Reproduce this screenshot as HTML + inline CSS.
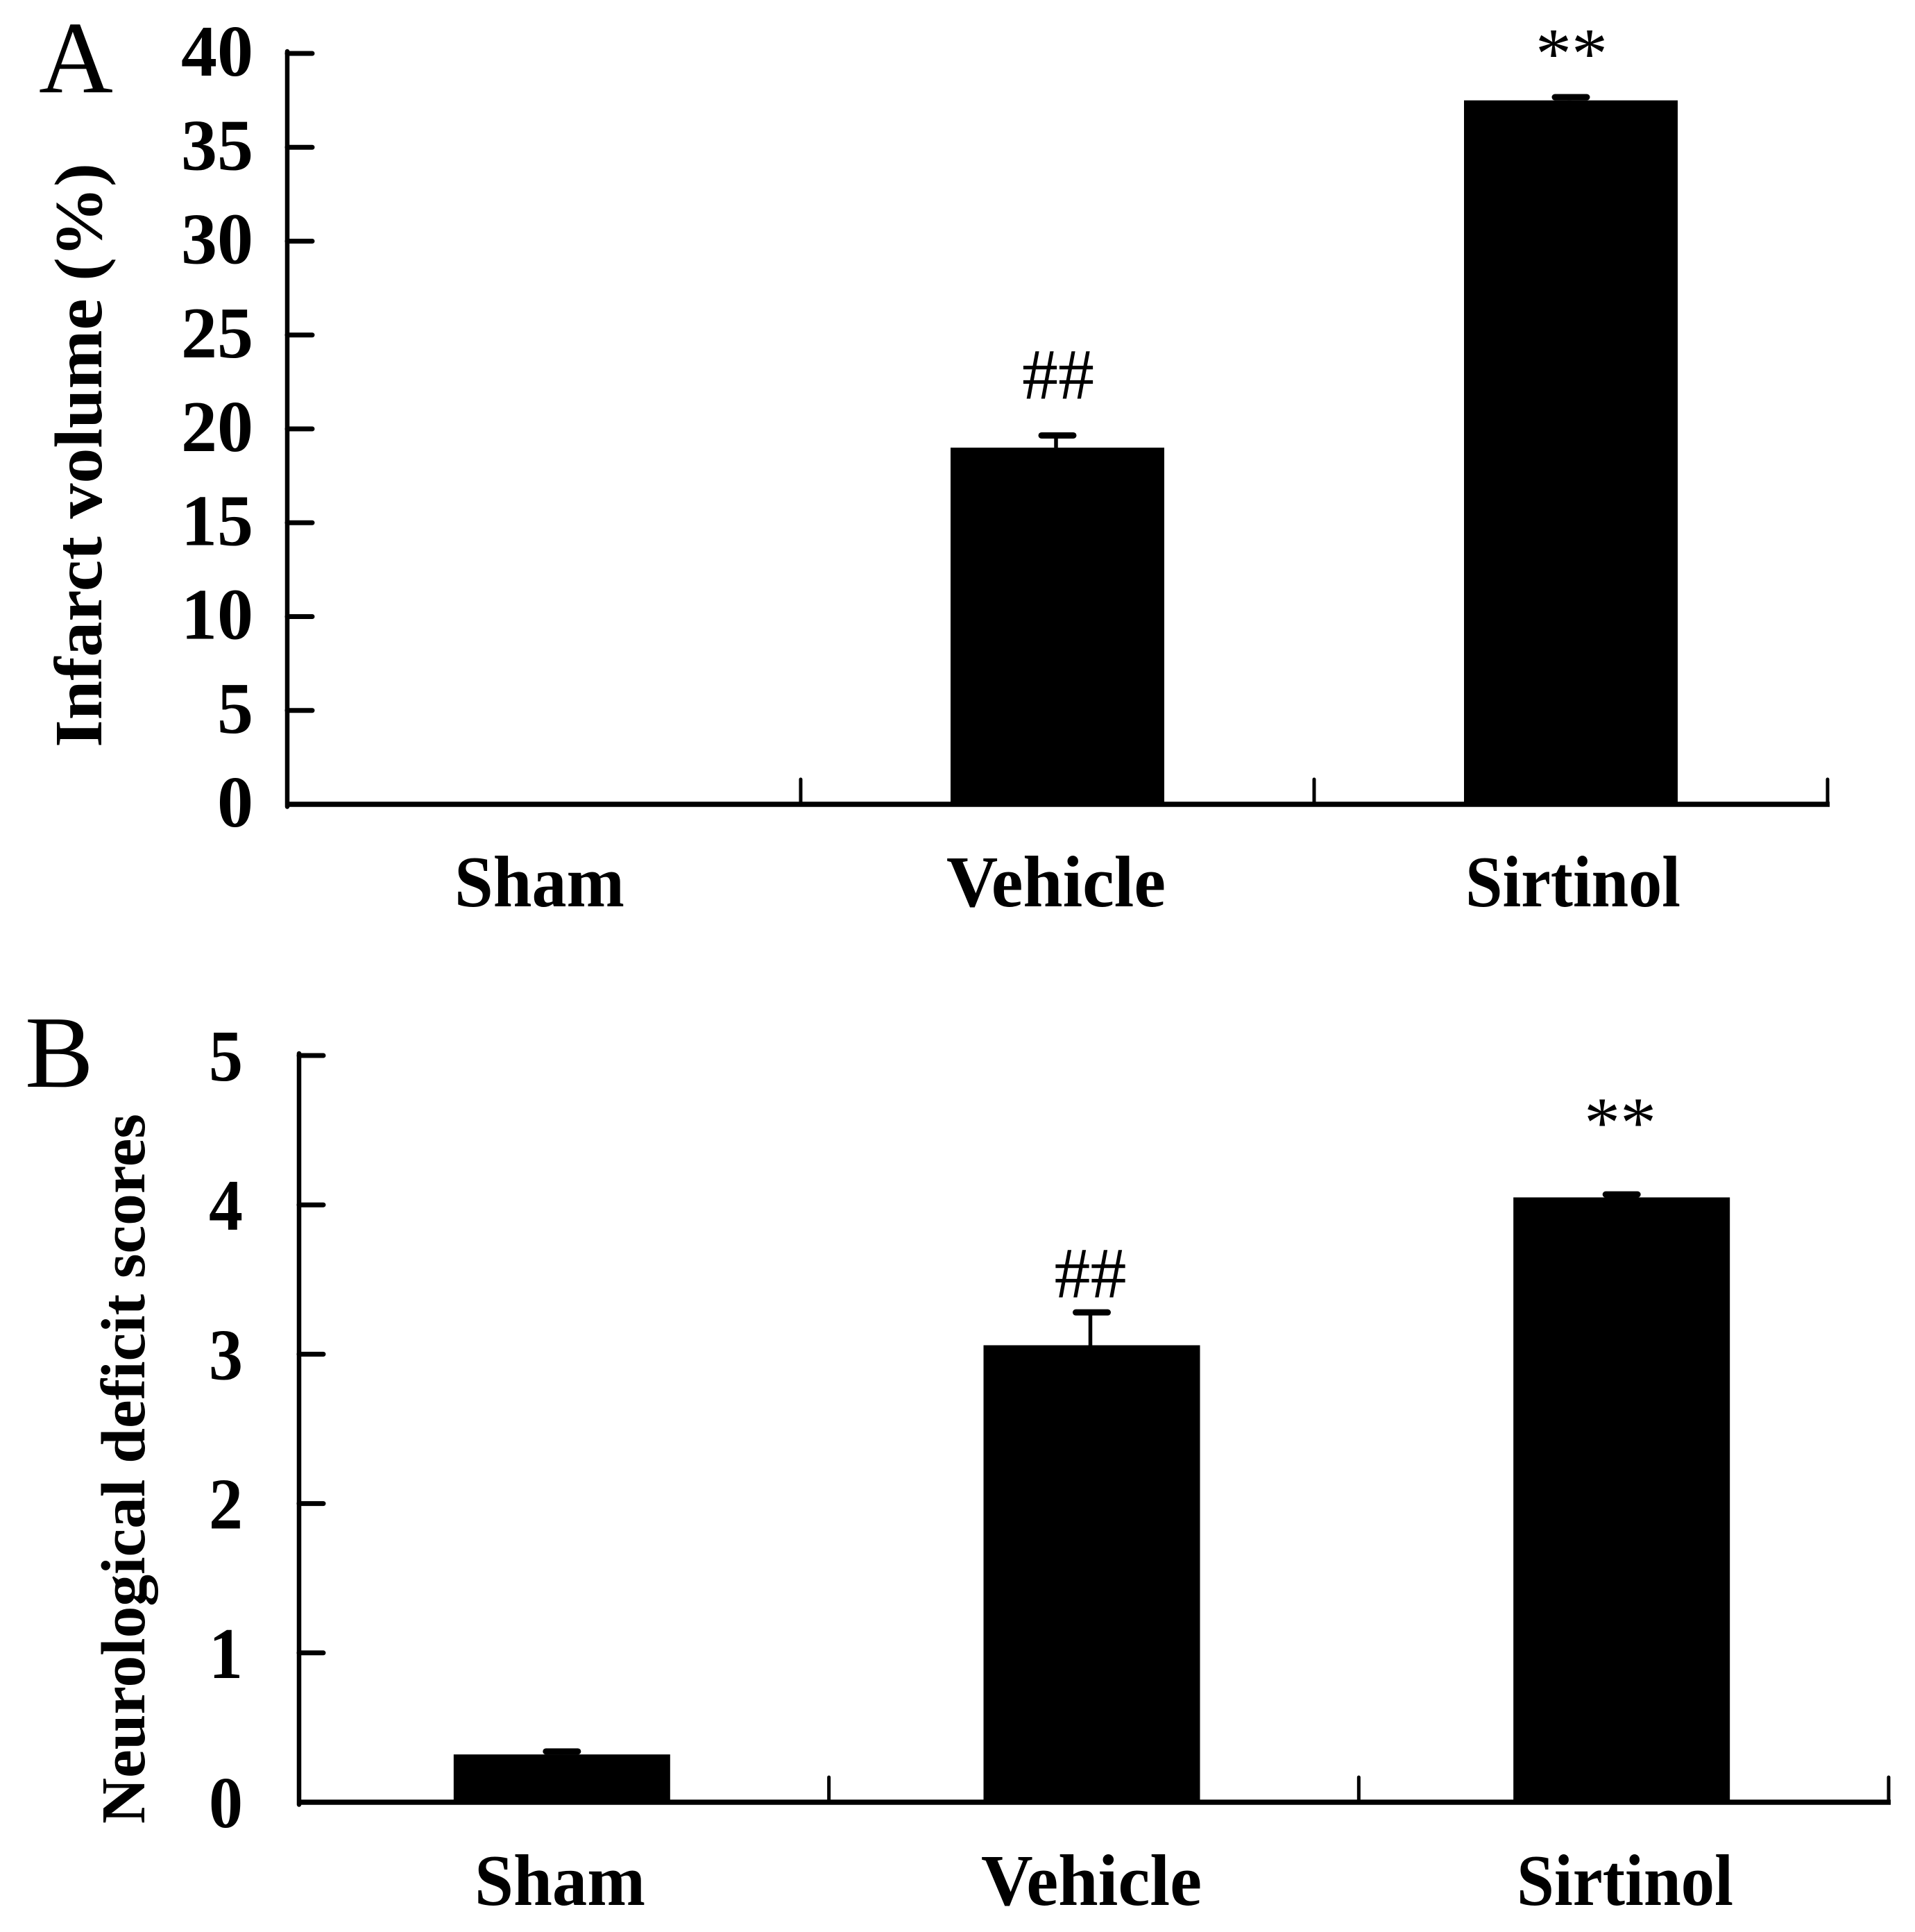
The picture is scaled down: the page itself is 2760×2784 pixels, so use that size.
<!DOCTYPE html>
<html lang="en">
<head>
<meta charset="utf-8">
<title>Infarct volume and neurological deficit scores</title>
<style>
html,body{margin:0;padding:0;background:#fff;width:2760px;height:2784px;overflow:hidden}
svg{display:block}
text{font-family:"Liberation Serif","Times New Roman",serif;fill:#000}
</style>
</head>
<body>
<svg id="figure" xmlns="http://www.w3.org/2000/svg" width="2760" height="2784" viewBox="0 0 2760 2784">
<rect x="0" y="0" width="2760" height="2784" fill="#fff"/>
</svg>
<script>
const categories = ['Sham', 'Vehicle', 'Sirtinol'];

const tickLabelsA = ['0', '5', '10', '15', '20', '25', '30', '35', '40'];
const valuesA = [0, 19.0, 37.5];
const errorsA = [0, 0.65, 0.17];
const sigLabelsA = ['', '##', '**'];
const sigLevelsA = [null, 21.6, 38.7];

const tickLabelsB = ['0', '1', '2', '3', '4', '5'];
const valuesB = [0.32, 3.06, 4.05];
const errorsB = [0.02, 0.22, 0.02];
const sigLabelsB = ['', '##', '**'];
const sigLevelsB = [null, 3.38, 4.39];

const svg = document.getElementById('figure');
const NS = 'http://www.w3.org/2000/svg';

function make(tag, attrs, parent) {
  const el = document.createElementNS(NS, tag);
  for (const k in attrs) el.setAttribute(k, attrs[k]);
  parent.appendChild(el);
  return el;
}

function drawPanel(p) {
  const g = make('g', {}, svg);
  
  
  const yMax = Number(p.ticks[p.ticks.length - 1]);
  const yScale = v => p.y0 - (v / yMax) * (p.y0 - p.yTop);
  const band = (p.x1 - p.x0) / p.cats.length;
  const xCenter = i => p.x0 + band * (i + 0.5) + p.barShift;

  // panel letter
  const letter = make('text', {x: p.letterX, y: p.letterY, 'font-size': 148}, g);
  letter.textContent = p.id;
  
  

  // y title
  const title = make('text', {
    transform: 'translate(' + p.titleX + ' ' + p.titleY + ') rotate(-90)',
    'font-size': p.titleSize, 'font-weight': 'bold',
    textLength: p.titleLen, lengthAdjust: 'spacingAndGlyphs'
  }, g);
  title.textContent = p.title;
  
  

  // bars
  p.values.forEach((v, i) => {
    if (v <= 0) return;
    const bar = make('rect', {
      x: xCenter(i) - p.barWidth / 2, y: yScale(v),
      width: p.barWidth, height: p.y0 - yScale(v), fill: '#000'
    }, g);
    
    

    const top = yScale(v + p.errors[i]);
    const stem = make('line', {
      x1: xCenter(i) - 2, x2: xCenter(i) - 2, y1: yScale(v), y2: top,
      stroke: '#000', 'stroke-width': 5.5
    }, g);
    
    

    const cap = make('line', {
      x1: xCenter(i) - 23, x2: xCenter(i) + 23, y1: top, y2: top,
      stroke: '#000', 'stroke-width': 9, 'stroke-linecap': 'round'
    }, g);
    
    
  });

  // significance marks
  p.sigLabels.forEach((s, i) => {
    if (!s) return;
    const t = make('text', {
      x: xCenter(i) + p.sigShift, y: yScale(p.sigLevels[i]), 'text-anchor': 'middle', 'font-size': 104
    }, g);
    t.textContent = s;
    
    
  });

  // y axis
  const yAxis = make('line', {
    x1: p.x0, x2: p.x0, y1: yScale(yMax) - 3, y2: p.y0 + 3.5,
    stroke: '#000', 'stroke-width': 6.5, 'stroke-linecap': 'round'
  }, g);
  
  

  // x axis
  const xAxis = make('line', {
    x1: p.x0 - 2, x2: p.x1 + 3, y1: p.y0, y2: p.y0,
    stroke: '#000', 'stroke-width': 7.5
  }, g);
  
  

  // y ticks and labels
  p.ticks.forEach(label => {
    const v = Number(label);
    if (v > 0) {
      const tick = make('line', {
        x1: p.x0, x2: p.x0 + p.tickLen, y1: yScale(v), y2: yScale(v),
        stroke: '#000', 'stroke-width': 7, 'stroke-linecap': 'round'
      }, g);
      
      
    }
    const t = make('text', {
      x: p.labelRight, y: yScale(v) + p.labelDy, 'text-anchor': 'end',
      'font-size': 105, 'font-weight': 'bold',
      textLength: label.length * p.digitWidth, lengthAdjust: 'spacingAndGlyphs'
    }, g);
    t.textContent = label;
    
    
  });

  // x ticks and category labels
  p.cats.forEach((c, i) => {
    const tx = p.x0 + band * (i + 1);
    const tick = make('line', {
      x1: tx, x2: tx, y1: p.y0, y2: p.y0 - p.xTickLen,
      stroke: '#000', 'stroke-width': 5, 'stroke-linecap': 'round'
    }, g);
    
    

    const t = make('text', {
      x: p.catX[i], y: p.catY, 'font-size': 105, 'font-weight': 'bold',
      textLength: p.catLen[i], lengthAdjust: 'spacingAndGlyphs'
    }, g);
    t.textContent = c;
    
    
  });
}

drawPanel({
  id: 'A', title: 'Infarct volume (%)', cats: categories,
  ticks: tickLabelsA, values: valuesA, errors: errorsA,
  sigLabels: sigLabelsA, sigLevels: sigLevelsA, sigShift: 1,
  x0: 414, x1: 2634, y0: 1159, yTop: 77,
  barWidth: 308, barShift: 0, tickLen: 36, xTickLen: 36, labelRight: 365,
  labelDy: 32, digitWidth: 52,
  letterX: 56, letterY: 133,
  titleX: 146, titleY: 1077, titleSize: 98, titleLen: 842,
  catX: [655, 1364, 2112], catY: 1306, catLen: [245, 316, 310]
});

drawPanel({
  id: 'B', title: 'Neurological deficit scores', cats: categories,
  ticks: tickLabelsB, values: valuesB, errors: errorsB,
  sigLabels: sigLabelsB, sigLevels: sigLevelsB, sigShift: -2,
  x0: 431, x1: 2722, y0: 2597, yTop: 1521,
  barWidth: 312, barShift: -3, tickLen: 35, xTickLen: 36, labelRight: 350,
  labelDy: 36, digitWidth: 49,
  letterX: 36, letterY: 1566,
  titleX: 208, titleY: 2628, titleSize: 90, titleLen: 1023,
  catX: [684, 1414, 2186], catY: 2745, catLen: [246, 318, 312]
});
</script>
</body>
</html>
